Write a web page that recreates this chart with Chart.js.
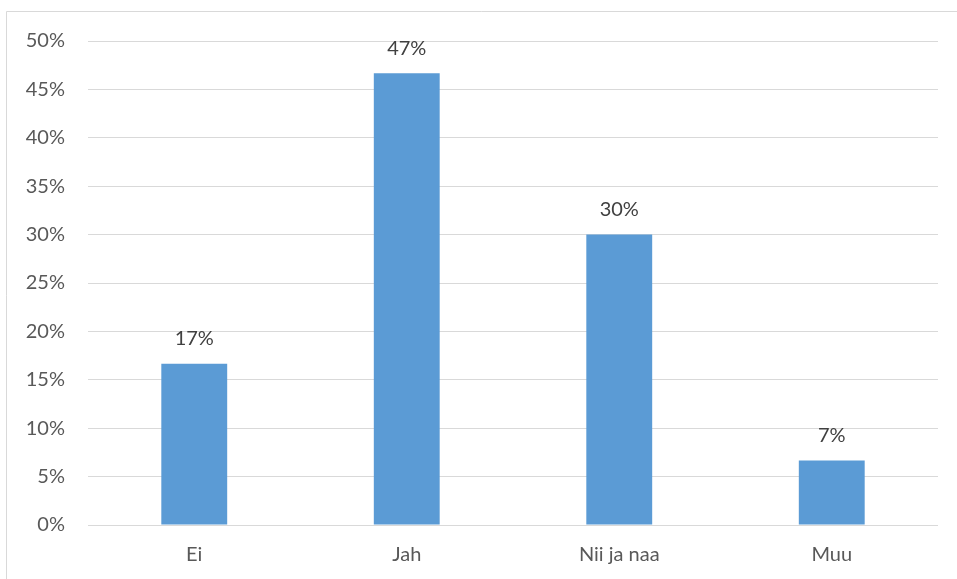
<!DOCTYPE html>
<html>
<head>
<meta charset="utf-8">
<script src="https://cdn.jsdelivr.net/npm/chart.js@4"></script>
<style>
  html, body { margin: 0; padding: 0; background: #fff; }
  #wrap { width: 957px; height: 579px; }
</style>
</head>
<body>
<div id="wrap"><canvas id="answerChart" width="957" height="579"></canvas></div>
<script>
const categories = ["Ei", "Jah", "Nii ja naa", "Muu"];
const shares = [16.67, 46.67, 30, 6.67];
const shareLabels = ["17%", "47%", "30%", "7%"];
const yTicks = [0, 5, 10, 15, 20, 25, 30, 35, 40, 45, 50];

const textGray = "#595959";
const fontFamily = "Lato, 'Open Sans', sans-serif";

// thin frame like the office chart border
const framePlugin = {
  id: "frame",
  beforeDraw(chart) {
    const c = chart.ctx;
    c.save();
    c.fillStyle = "#fff";
    c.fillRect(0, 0, chart.width, chart.height);
    c.strokeStyle = "#d9d9d9";
    c.lineWidth = 1;
    c.beginPath();
    c.moveTo(6.5, chart.height);
    c.lineTo(6.5, 11.5);
    c.lineTo(chart.width, 11.5);
    c.stroke();
    c.restore();
  }
};

// value labels above the bars
const valueLabels = {
  id: "valueLabels",
  afterDatasetsDraw(chart) {
    const c = chart.ctx;
    const meta = chart.getDatasetMeta(0);
    c.save();
    c.fillStyle = "#404040";
    c.font = "20px " + fontFamily;
    c.textAlign = "center";
    c.textBaseline = "middle";
    meta.data.forEach((bar, i) => {
      c.fillText(shareLabels[i], bar.x, bar.y - 25);
    });
    c.restore();
  }
};

const ctx = document.getElementById("answerChart").getContext("2d");

const answerChart = new Chart(ctx, {
  type: "bar",
  data: {
    labels: categories,
    datasets: [{
      data: shares,
      backgroundColor: "#5B9BD5",
      categoryPercentage: 1,
      barPercentage: 0.31
    }]
  },
  options: {
    responsive: false,
    animation: false,
    layout: {
      padding: { left: 0, right: 19, top: 41, bottom: 0 }
    },
    plugins: {
      legend: { display: false },
      tooltip: { enabled: false }
    },
    scales: {
      x: {
        grid: { display: false, drawTicks: false },
        border: { display: false },
        ticks: {
          color: textGray,
          padding: 18,
          font: { family: fontFamily, size: 20 }
        },
        afterFit(scale) { scale.height = 54; }
      },
      y: {
        min: 0,
        max: 50,
        afterBuildTicks(scale) {
          scale.ticks = yTicks.map(v => ({ value: v }));
        },
        grid: { color: "#d9d9d9", lineWidth: 1, drawTicks: false },
        border: { display: false },
        ticks: {
          color: textGray,
          padding: 23,
          font: { family: fontFamily, size: 20 },
          callback: v => v + "%"
        },
        afterFit(scale) { scale.width = 88; }
      }
    }
  },
  plugins: [framePlugin, valueLabels]
});
</script>
</body>
</html>
